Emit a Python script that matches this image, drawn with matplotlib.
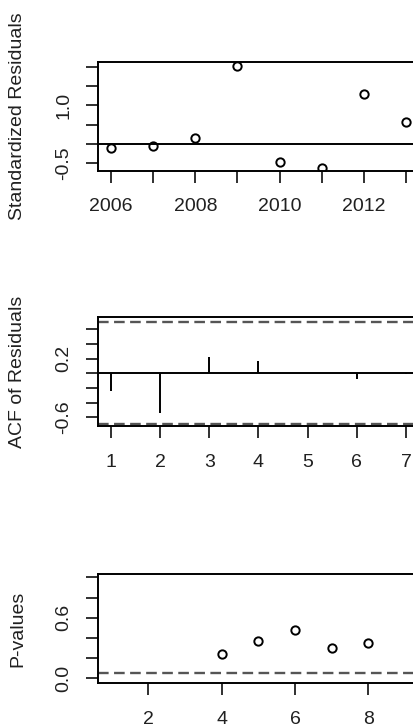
import numpy as np
import matplotlib
matplotlib.use('Agg')
import matplotlib.pyplot as plt

plt.rcParams['font.family'] = ['Liberation Sans', 'DejaVu Sans']
plt.rcParams['font.size'] = 14

# --- data ---
years = [2006, 2007, 2008, 2009, 2010, 2011, 2012, 2013]
std_resid = [-0.105, -0.068, 0.141, 2.04, -0.487, -0.636, 1.309, 0.576]

lags = [1, 2, 3, 4, 5, 6, 7]
acf_resid = [-0.237, -0.544, 0.218, 0.167, 0.004, -0.078, -0.006]
acf_clim = 0.693

pv_lag = [4, 5, 6, 7, 8]
pvalues = [0.238, 0.366, 0.481, 0.297, 0.352]
pv_level = 0.05

W, H = 414, 728
fig = plt.figure(figsize=(W / 100, H / 100), dpi=100)


def mkax(top, bot):
    # box in pixel rows, right edge slightly past the crop
    left, right = 98, 417.8
    return fig.add_axes([left / W, 1 - bot / H, (right - left) / W, (bot - top) / H])


def style(ax, xt, xl, yt, yl, ylabel):
    for s in ax.spines.values():
        s.set_linewidth(1.4)
    ax.tick_params(direction='out', length=8.5, width=1.3, top=False, right=False,
                   colors='#202020')
    ax.tick_params(axis='x', pad=11.5)
    ax.tick_params(axis='y', pad=10)
    ax.set_xticks(xt)
    ax.set_xticklabels(xl)
    ax.set_yticks(yt)
    ax.set_yticklabels(yl, rotation=90, va='center')
    ax.set_ylabel(ylabel, color='#202020')
    ax.yaxis.label.set_va('center')
    ax.yaxis.set_label_coords(-80 / 319.8, 0.5)


dash = (0, (4.5, 2.3))

# --- standardized residuals ---
ax1 = mkax(62.3, 170.7)
ax1.plot(years, std_resid, 'o', mfc='none', mec='black', ms=6, mew=1.4)
ax1.axhline(0, color='black', lw=1.4)
ax1.set_xlim(2005.69, 2013.28)
ax1.set_ylim(-0.707, 2.131)
style(ax1, years, ['2006', '', '2008', '', '2010', '', '2012', ''],
      [-0.5, 0.0, 0.5, 1.0, 1.5, 2.0], ['-0.5', '', '', '1.0', '', ''],
      'Standardized Residuals')

# --- ACF of residuals ---
ax2 = mkax(317.3, 426.3)
ax2.vlines(lags, 0, acf_resid, color='black', lw=1.4)
ax2.axhline(0, color='black', lw=1.4)
ax2.axhline(acf_clim, color='#555555', lw=1.7, ls=dash)
ax2.axhline(-acf_clim, color='#555555', lw=1.7, ls=dash)
ax2.set_xlim(0.736, 7.24)
ax2.set_ylim(-0.72, 0.76)
style(ax2, lags, [str(l) for l in lags],
      [-0.6, -0.4, -0.2, 0.0, 0.2, 0.4, 0.6], ['-0.6', '', '', '', '0.2', '', ''],
      'ACF of Residuals')

# --- Ljung-Box p-values ---
ax3 = mkax(574.3, 683)
ax3.plot(pv_lag, pvalues, 'o', mfc='none', mec='black', ms=6, mew=1.4)
ax3.axhline(pv_level, color='#555555', lw=1.7, ls=dash)
ax3.set_xlim(0.628, 9.35)
ax3.set_ylim(-0.047, 1.03)
style(ax3, [2, 4, 6, 8], ['2', '4', '6', '8'],
      [0.0, 0.2, 0.4, 0.6, 0.8, 1.0], ['0.0', '', '', '0.6', '', ''],
      'P-values')

fig.savefig('out.png', dpi=100)
